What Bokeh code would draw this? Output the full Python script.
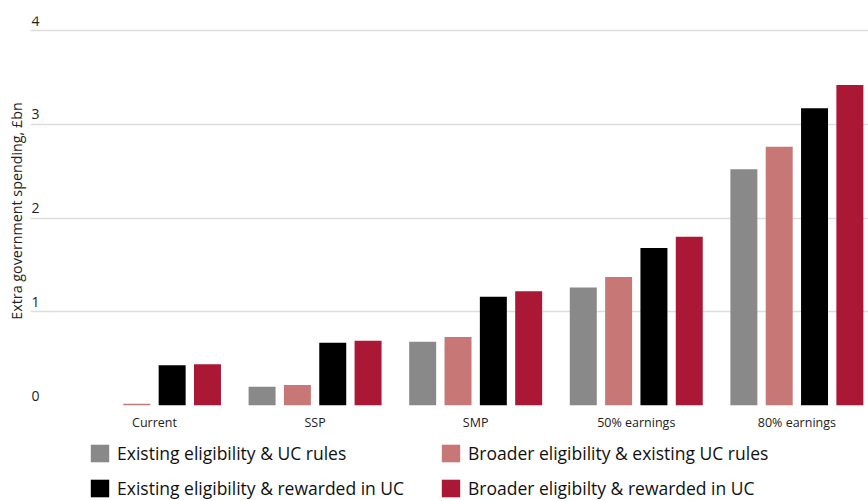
from bokeh.plotting import figure
from bokeh.layouts import column
from bokeh.models import Range1d, FixedTicker, Legend, LegendItem, ColumnDataSource
from bokeh.core.properties import value
from bokeh.embed import file_html
from bokeh.resources import INLINE

categories = ["Current", "SSP", "SMP", "50% earnings", "80% earnings"]
series_names = [
    "Existing eligibility & UC rules",
    "Broader eligibility & existing UC rules",
    "Existing eligibility & rewarded in UC",
    "Broader eligibilty & rewarded in UC",
]
existing_uc_rules = [0.0, 0.20, 0.68, 1.26, 2.52]
broader_existing_uc = [0.02, 0.22, 0.73, 1.37, 2.76]
existing_rewarded = [0.43, 0.67, 1.16, 1.68, 3.17]
broader_rewarded = [0.44, 0.69, 1.22, 1.80, 3.42]
y_ticks = [0, 1, 2, 3, 4]
y_tick_labels = ["0", "1", "2", "3", "4"]

colors = ["#898989", "#C87777", "#000000", "#AA1836"]
FONT = "Open Sans"

series = [existing_uc_rules, broader_existing_uc, existing_rewarded, broader_rewarded]

x_start, x_end = -0.772, 4.446
p = figure(
    output_backend="svg", toolbar_location=None,
    frame_width=838, frame_height=389,
    x_range=Range1d(x_start, x_end), y_range=Range1d(0, 4.15),
    min_border_left=30, min_border_right=0, min_border_top=16, min_border_bottom=32,
)
p.outline_line_color = None
p.background_fill_color = "white"

p.xgrid.visible = False
p.ygrid.ticker = FixedTicker(ticks=y_ticks)
p.ygrid.grid_line_color = "#dddddd"
p.ygrid.grid_line_width = 1.5

p.yaxis.ticker = FixedTicker(ticks=[])
p.yaxis.axis_line_color = None
p.yaxis.major_tick_out = 0
p.yaxis.minor_tick_out = 0
p.yaxis.axis_label = "Extra government spending, £bn"
p.yaxis.axis_label_text_font = FONT
p.yaxis.axis_label_text_font_style = "normal"
p.yaxis.axis_label_text_font_size = "14.3px"
p.yaxis.axis_label_text_color = "#222222"
p.yaxis.axis_label_standoff = 5

p.xaxis.ticker = FixedTicker(ticks=list(range(len(categories))))
p.xaxis.major_label_overrides = {i: c for i, c in enumerate(categories)}
p.xaxis.axis_line_color = None
p.xaxis.major_tick_line_color = None
p.xaxis.minor_tick_line_color = None
p.xaxis.major_tick_out = 0
p.xaxis.major_label_standoff = 8
p.xaxis.major_label_text_font = FONT
p.xaxis.major_label_text_font_size = "12.5px"
p.xaxis.major_label_text_color = "#222222"

tick_src = ColumnDataSource(dict(x=[x_start] * len(y_ticks), y=y_ticks, t=y_tick_labels))
p.text(x="x", y="y", text="t", source=tick_src, x_offset=1, y_offset=-5,
       text_font=value(FONT), text_font_size="14px", text_color="#222222",
       text_baseline="bottom", text_align="left")

pitch = 0.22
bw = 0.168
sources = []
for i, (vals, col) in enumerate(zip(series, colors)):
    off = (i - 1.5) * pitch
    src = ColumnDataSource(dict(x=[k + off for k in range(len(categories))], top=vals))
    sources.append(src)
    p.vbar(x="x", top="top", bottom=0, width=bw, source=src,
           fill_color=col, line_color=None)

# legend strip below the chart (its bars lie outside its view; only the legend shows)
lg = figure(
    output_backend="svg", toolbar_location=None,
    frame_width=868, frame_height=64,
    x_range=Range1d(0, 1), y_range=Range1d(100, 101),
    x_axis_type=None, y_axis_type=None,
    min_border_left=0, min_border_right=0, min_border_top=0, min_border_bottom=0,
)
lg.outline_line_color = None
lg.xgrid.visible = False
lg.ygrid.visible = False
swatches = []
for src, col in zip(sources, colors):
    swatches.append(lg.vbar(x="x", top="top", bottom=0, width=bw, source=src,
                            fill_color=col, line_color=None))

legend = Legend(
    items=[LegendItem(label=name, renderers=[r]) for name, r in zip(series_names, swatches)],
    ncols=2,
    location=(88, 1),
    orientation="horizontal",
    glyph_width=23, glyph_height=22, label_height=22,
    label_width=311,
    label_standoff=6, spacing=11, padding=0, margin=0,
    label_text_font=FONT, label_text_font_size="17.5px", label_text_color="#111111",
    border_line_color=None, background_fill_alpha=0,
)
lg.add_layout(legend, "center")

layout = column(p, lg, spacing=0)
open("out.html", "w").write(file_html(layout, INLINE))
